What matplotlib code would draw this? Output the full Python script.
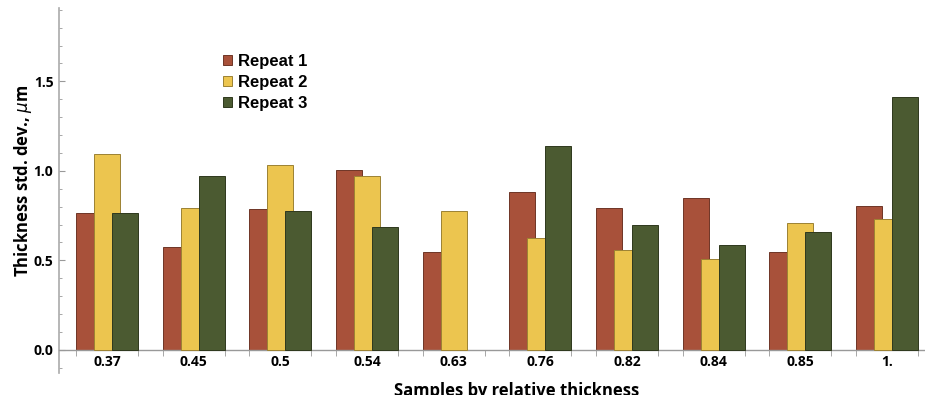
import numpy as np
import matplotlib.pyplot as plt
from matplotlib.ticker import MultipleLocator, FixedLocator

samples = ['0.37', '0.45', '0.5', '0.54', '0.63', '0.76', '0.82', '0.84', '0.85', '1.']
repeat1 = [0.764, 0.575, 0.788, 1.002, 0.549, 0.879, 0.795, 0.849, 0.544, 0.803]
repeat2 = [1.093, 0.793, 1.034, 0.972, 0.778, 0.627, 0.560, 0.507, 0.708, 0.728]
repeat3 = [0.762, 0.970, 0.773, 0.687, np.nan, 1.138, 0.698, 0.585, 0.657, 1.410]
series = ['Repeat 1', 'Repeat 2', 'Repeat 3']

colors = ['#A8513A', '#ECC54F', '#4B5A31']
edges = ['#6E3526', '#9C8233', '#2E381D']

fig = plt.figure(figsize=(9.25, 3.95), dpi=100)
ax = fig.add_axes([0.0638, 0.0557, 1 - 0.0638, 0.924])

x = np.arange(len(samples))
w = 0.30
step = 0.207
for k, vals in enumerate([repeat1, repeat2, repeat3]):
    ax.bar(x + (k - 1) * step, vals, width=w, color=colors[k],
           edgecolor=edges[k], linewidth=0.7, label=series[k], zorder=2 + k)

ax.set_xlim(-0.553, 9.438)
ax.set_ylim(-0.13, 1.91)

for s in ['top', 'right']:
    ax.spines[s].set_visible(False)
ax.spines['bottom'].set_position(('data', 0))
ax.spines['left'].set_color('#aaaaaa')
ax.spines['bottom'].set_color('#999999')
ax.spines['left'].set_linewidth(1.2)
ax.spines['bottom'].set_linewidth(1.0)

# x: labels at group centres, ticks at group edges
ax.xaxis.set_major_locator(FixedLocator(x))
ax.set_xticklabels(samples, fontfamily='Open Sans', fontweight='bold', fontsize=10)
ax.tick_params(axis='x', which='major', length=0, pad=4)
ax.xaxis.set_minor_locator(FixedLocator(np.concatenate([x - 0.357, x + 0.357])))
ax.tick_params(axis='x', which='minor', length=4, direction='out', color='#999999')

# y
ax.yaxis.set_major_locator(FixedLocator([0, 0.5, 1.0, 1.5]))
ax.set_yticklabels(['0.0', '0.5', '1.0', '1.5'], fontfamily='Open Sans',
                   fontweight='bold', fontsize=10)
ax.yaxis.set_minor_locator(MultipleLocator(0.1))
ax.tick_params(axis='y', which='major', length=4, direction='in', color='#999999', pad=4)
ax.tick_params(axis='y', which='minor', length=2, direction='in', color='#999999')

fig.text(0.025, 0.542, 'Thickness std. dev., $\\mathit{\\mu}$m', rotation=90,
         ha='center', va='center', fontfamily='Open Sans', fontweight='bold', fontsize=12)
fig.text(0.559, 0.033, 'Samples by relative thickness', ha='center', va='top',
         fontfamily='Open Sans', fontweight='bold', fontsize=12)

leg = ax.legend(loc='upper left', bbox_to_anchor=(0.172, 0.915), frameon=False,
                prop={'family': 'Liberation Sans', 'weight': 'bold', 'size': 12},
                handlelength=0.55, handleheight=0.55, handletextpad=0.35, labelspacing=0.35)

fig.savefig('out.png', dpi=100)
